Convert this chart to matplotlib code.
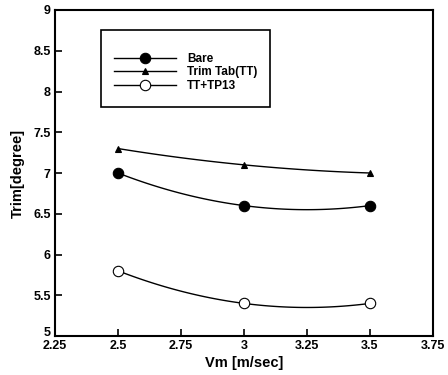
import numpy as np
import matplotlib
matplotlib.use("Agg")
import matplotlib.pyplot as plt
import matplotlib.transforms as mtransforms
from matplotlib.patches import Rectangle

vm = [2.5, 3.0, 3.5]
bare = [7.0, 6.6, 6.6]
trim_tab = [7.3, 7.1, 7.0]
tt_tp13 = [5.8, 5.4, 5.4]
labels = ["Bare", "Trim Tab(TT)", "TT+TP13"]

plt.rcParams['font.family'] = ['Liberation Sans', 'DejaVu Sans']
plt.rcParams['font.weight'] = 'bold'

fig = plt.figure(figsize=(4.48, 3.75), dpi=100)
ax = fig.add_axes([55/448, 1-336/375, (433-55)/448, (336-10)/375])

xs = np.linspace(vm[0], vm[-1], 100)
specs = [(bare, 'o', 'black', 7.5), (trim_tab, '^', 'black', 5), (tt_tp13, 'o', 'white', 7.5)]
handles = []
for data, m, fc, ms in specs:
    c = np.polyfit(vm, data, 2)
    ax.plot(xs, np.polyval(c, xs), color='black', lw=1.0)
    ax.plot(vm, data, linestyle='none', marker=m, mfc=fc, mec='black', ms=ms, mew=0.8)
    h, = ax.plot([], [], color='black', lw=1.0, marker=m, mfc=fc, mec='black', ms=ms, mew=0.8)
    handles.append(h)

# legend frame
ax.add_patch(Rectangle((0.122, 0.702), 0.447, 0.237, transform=ax.transAxes,
                       fill=False, edgecolor='black', lw=1.2, zorder=5))
leg = ax.legend(handles, labels, loc='upper left', bbox_to_anchor=(0.155, 0.869),
                frameon=False, fontsize=8.5, handlelength=5.3, handletextpad=0.9,
                borderpad=0, labelspacing=0.15, borderaxespad=0)
for t in leg.get_texts():
    t.set_fontweight('bold')

ax.set_xlim(2.25, 3.75)
ax.set_ylim(5, 9)
ax.set_xticks([2.25, 2.5, 2.75, 3.0, 3.25, 3.5, 3.75])
ax.set_xticklabels(['2.25', '2.5', '2.75', '3', '3.25', '3.5', '3.75'])
ax.set_yticks([5, 5.5, 6, 6.5, 7, 7.5, 8, 8.5, 9])
ax.set_yticklabels(['5', '5.5', '6', '6.5', '7', '7.5', '8', '8.5', '9'])
ax.tick_params(direction='in', length=5, width=1.2, labelsize=9, pad=3)
for s in ax.spines.values():
    s.set_linewidth(1.5)
ax.set_xlabel('Vm [m/sec]', fontsize=10.5, fontweight='bold', labelpad=3)
ax.set_ylabel('Trim[degree]', fontsize=10.5, fontweight='bold', labelpad=6)

# nudge the bottom y label up slightly, as in the reference
lbl = ax.get_yticklabels()[0]
lbl.set_transform(lbl.get_transform() + mtransforms.ScaledTranslation(0, 3/72, fig.dpi_scale_trans))

fig.savefig('out.png', dpi=100)
